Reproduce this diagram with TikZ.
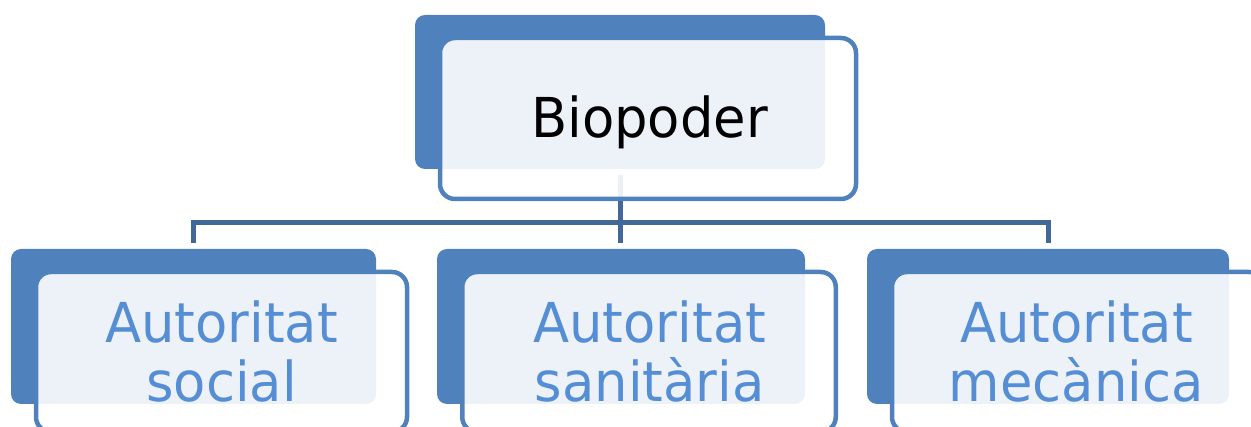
\documentclass[tikz,border=0pt]{standalone}
\usepackage{fontspec}
\setmainfont{DejaVu Sans}
\definecolor{boxblue}{HTML}{4F81BD}
\definecolor{connblue}{HTML}{416899}
\definecolor{txtblue}{HTML}{558ED5}
\newcommand{\narrowtxt}[1]{\scalebox{0.96}[1]{#1}}
\begin{document}
\begin{tikzpicture}[x=1pt,y=-1pt,
  bluebox/.style={fill=boxblue, draw=none, rounded corners=10pt, inner sep=0pt},
  outlinebox/.style={draw=boxblue, line width=4.5pt, fill=white, fill opacity=0.9, draw opacity=1, rounded corners=15pt, inner sep=0pt},
  conn/.style={draw=connblue, line width=5pt},
  lbl/.style={font=\fontsize{55}{59}\selectfont, align=center, inner sep=0pt, anchor=base}
]
\useasboundingbox (0,0) rectangle (1251,427);
% back blue boxes
\node[bluebox, minimum width=410pt, minimum height=154pt] (tb) at (620,92) {};
\node[bluebox, minimum width=365pt, minimum height=155pt] (b1) at (193.5,326.5) {};
\node[bluebox, minimum width=368pt, minimum height=155pt] (b2) at (621,326.5) {};
\node[bluebox, minimum width=362pt, minimum height=155pt] (b3) at (1048,326.5) {};
% connectors
\coordinate (hub) at (620,222.5);
\draw[conn, shorten <=6pt] (tb.south) -- (hub);
\draw[conn, shorten >=6pt] (hub) -| (b1.north);
\draw[conn, shorten >=6pt] (hub) -| (b3.north);
\draw[conn, shorten >=6pt] (hub) -- (hub |- b2.north);
% front outline boxes
\node[outlinebox, minimum width=416pt, minimum height=161pt] (to) at (648,118.5) {};
\node[outlinebox, minimum width=371pt, minimum height=160pt] (o1) at (221.5,352) {};
\node[outlinebox, minimum width=373.5pt, minimum height=160pt] (o2) at (649,352) {};
\node[outlinebox, minimum width=372pt, minimum height=160pt] (o3) at (1078,352) {};
% labels
\node[lbl, text=black] (t0) at (649.5,138) {\narrowtxt{Biopoder}};
\node[lbl, text=txtblue] (t1a) at (221.5,343) {\narrowtxt{Autoritat}};
\node[lbl, text=txtblue] (t1b) at (221.5,402) {\narrowtxt{social}};
\node[lbl, text=txtblue] (t2a) at (649.7,343) {\narrowtxt{Autoritat}};
\node[lbl, text=txtblue] (t2b) at (649.7,402) {\narrowtxt{sanitària}};
\node[lbl, text=txtblue] (t3a) at (1076.4,343) {\narrowtxt{Autoritat}};
\node[lbl, text=txtblue] (t3b) at (1076.4,402) {\narrowtxt{mecànica}};
\end{tikzpicture}
\end{document}
